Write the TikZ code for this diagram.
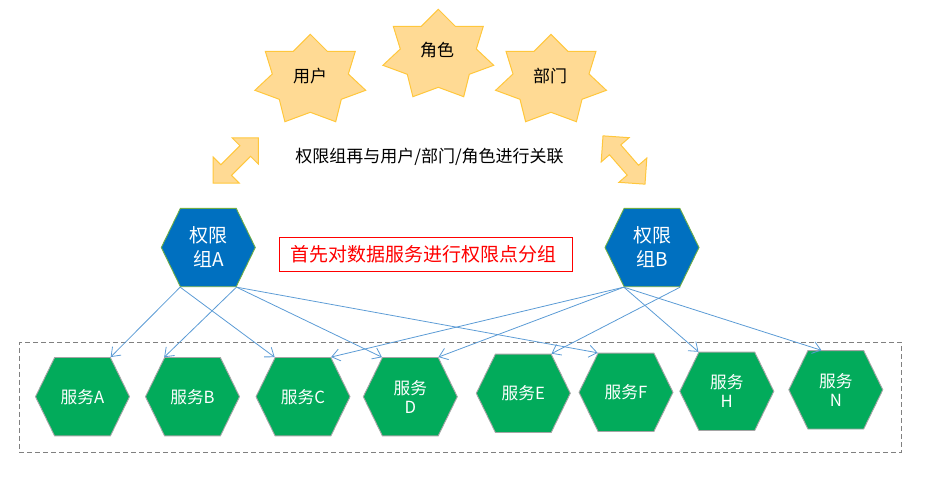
\documentclass[tikz,border=0pt]{standalone}
\usepackage{fontspec}
\setmainfont{Noto Sans CJK SC}
\usetikzlibrary{arrows.meta, shapes.symbols, shapes.arrows}
\definecolor{starfill}{HTML}{FFDA94}
\definecolor{starline}{HTML}{FFC73C}
\definecolor{groupfill}{HTML}{0070C0}
\definecolor{groupline}{HTML}{70AD47}
\definecolor{svcfill}{HTML}{02AB5B}
\definecolor{svcline}{HTML}{A5A5A5}
\definecolor{linkcolor}{HTML}{5B9BD5}

\begin{document}
\begin{tikzpicture}[x=1pt,y=-1pt,>={Straight Barb[length=8pt,width=12pt]},
  hex node/.style={signal,signal to=east and west,signal pointer angle=128,
    minimum width=94pt,inner sep=0pt,align=center,text=white},
  group node/.style={hex node,minimum height=78.4pt,fill=groupfill,draw=groupline,
    line width=0.9pt,font=\fontsize{19}{24}\selectfont},
  svc node/.style={hex node,minimum height=78.4pt,fill=svcfill,draw=svcline,
    line width=0.9pt,font=\fontsize{16.7}{19}\selectfont},
  seven star/.pic={
    \draw[fill=starfill,draw=starline,line width=1pt] (0,0) -- (17,17) -- (45,17) -- (38,39.7)
      -- (55.4,56) -- (31,65) -- (25.4,87.4) -- (0,78) -- (-25.4,87.4) -- (-31,65)
      -- (-55.4,56) -- (-38,39.7) -- (-45,17) -- (-17,17) -- cycle;},
  link arrow/.style={double arrow,double arrow head extend=11pt,minimum height=64pt,
    minimum width=37pt,inner xsep=0pt,inner ysep=7pt,fill=starfill,draw=starline,line width=1pt},
  plain text/.style={font=\fontsize{17}{20}\selectfont,inner sep=0pt},
  link/.style={->,draw=linkcolor,line width=0.8pt}]
  \useasboundingbox (0,0) rectangle (932,477);

  \node[draw=gray,dash pattern=on 5pt off 3pt,line width=0.8pt,minimum width=882.4pt,minimum height=110pt] (svcbox) at (460.5,397.3) {};

  \pic at (310.3,34.3) {seven star};
  \pic at (438.3,9.3) {seven star};
  \pic at (551,34.3) {seven star};
  \node[plain text] (s0text) at (310,76.5) {用户};
  \node[plain text] (s1text) at (437,50) {角色};
  \node[plain text] (s2text) at (550,76.5) {部门};

  \node[link arrow,rotate=45] (a0) at (235.7,160.5) {};
  \node[link arrow,rotate=-49] (a1) at (624,160) {};
  \node[plain text] (relate) at (429.5,157) {权限组再与用户/部门/角色进行关联};

  \node[group node] (g0) at (208.3,247.5) {权限\\组A};
  \node[group node] (g1) at (652,247.5) {权限\\组B};
  \node[draw=red,text=red,minimum width=292.4pt,minimum height=34pt,inner sep=0pt,
    font=\fontsize{19}{24}\selectfont] (note) at (425.5,254.3) {\hspace*{-5pt}首先对数据服务进行权限点分组};

  \node[svc node] (a) at (82.5,396.7) {服务A};
  \node[svc node] (b) at (192.5,396.7) {服务B};
  \node[svc node] (c) at (303,396.7) {服务C};
  \node[svc node] (d) at (410.3,396.7) {服务\\D};
  \node[svc node] (e) at (523.3,393.3) {服务E};
  \node[svc node] (f) at (626,392.3) {服务F};
  \node[svc node] (h) at (726.8,391.3) {服务\\H};
  \node[svc node] (n) at (835.8,389.8) {服务\\N};

  \path[every edge/.style={link}]
     (g0.south west) edge (a.north east)
     (g0.south west) edge (c.north west)
     (g0.south east) edge (b.north west)
     (g0.south east) edge (d.north west)
     (g0.south east) edge (f.north west)
     (g1.south west) edge (c.north east)
     (g1.south west) edge (d.north east)
     (g1.south west) edge (h.north west)
     (g1.south west) edge ([xshift=14pt]n.north west)
     (g1.south east) edge (e.north east);
\end{tikzpicture}
\end{document}
